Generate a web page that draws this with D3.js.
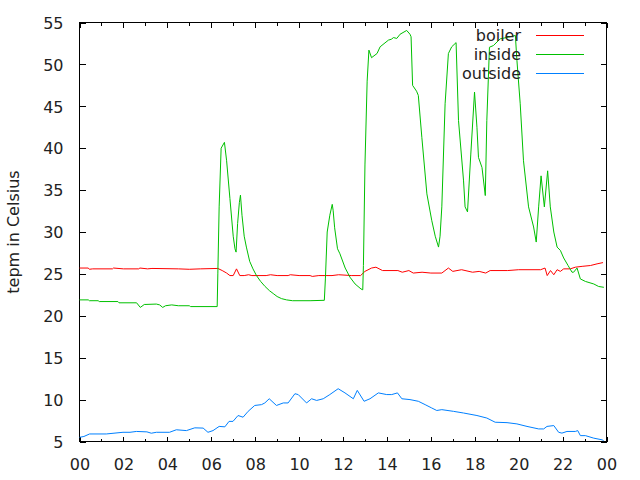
<!DOCTYPE html>
<html>
<head>
<meta charset="utf-8">
<script src="https://cdn.jsdelivr.net/npm/d3@7"></script>
<style>
  body { margin: 0; background: #fff; }
  svg text { font-family: "DejaVu Sans", sans-serif; font-size: 16px; fill: #222; }
</style>
</head>
<body>
<svg id="chart" width="640" height="480"></svg>
<script>
// hours of day, temperature in Celsius
const boiler = [[0,25.7],[0.4,25.7],[0.45,25.55],[0.6,25.6],[1.5,25.6],[1.55,25.7],[2.0,25.6],[2.7,25.6],[2.75,25.7],[3.1,25.6],[3.3,25.65],[4.5,25.6],[5.0,25.55],[5.5,25.6],[6.3,25.65],[6.5,25.4],[6.7,25.1],[6.85,24.8],[7.0,24.8],[7.15,25.6],[7.3,24.8],[7.5,24.8],[7.7,24.9],[7.85,24.8],[8.5,24.8],[8.7,24.9],[9.0,24.8],[9.5,24.8],[9.6,24.9],[10.0,24.8],[10.5,24.8],[10.6,24.7],[10.9,24.8],[11.5,24.8],[11.8,24.9],[12.4,24.8],[12.8,24.8],[13.0,25.3],[13.3,25.7],[13.5,25.8],[13.8,25.4],[14.5,25.4],[14.7,25.2],[15.0,25.4],[15.2,25.1],[15.6,25.2],[16.0,25.1],[16.5,25.1],[16.8,25.7],[17.0,25.3],[17.4,25.5],[17.9,25.2],[18.2,25.3],[18.5,25.1],[18.7,25.4],[19.5,25.4],[20.0,25.5],[21.0,25.5],[21.2,25.7],[21.3,24.8],[21.45,25.4],[21.6,24.9],[21.75,25.5],[21.9,25.3],[22.05,25.6],[22.35,25.6],[22.58,25.8],[22.89,25.9],[23.27,26.0],[23.57,26.2],[23.84,26.35]]

const inside = [[0,21.9],[0.4,21.9],[0.45,21.8],[0.85,21.8],[0.9,21.7],[1.75,21.7],[1.8,21.55],[2.6,21.55],[2.77,21.0],[2.95,21.35],[3.5,21.4],[3.65,21.3],[3.79,21.0],[3.92,21.2],[4.2,21.3],[4.5,21.2],[5.0,21.2],[5.06,21.1],[6.27,21.1],[6.3,25.0],[6.36,33],[6.45,40.0],[6.6,40.7],[6.7,38.5],[6.85,34],[7.0,29.5],[7.08,28.0],[7.13,27.6],[7.2,31],[7.28,33.5],[7.33,34.4],[7.4,32.0],[7.5,29.5],[7.6,28.2],[7.75,26.5],[7.9,25.6],[8.06,24.8],[8.25,24.1],[8.45,23.5],[8.65,23.0],[8.82,22.66],[9.0,22.3],[9.2,22.05],[9.43,21.9],[9.7,21.8],[10.5,21.8],[11.15,21.85],[11.2,24.5],[11.28,30],[11.4,32],[11.51,33.3],[11.55,32.6],[11.62,30.5],[11.75,28.0],[11.86,27.4],[12.1,25.7],[12.32,24.6],[12.55,23.8],[12.82,23.2],[12.9,23.1],[12.93,26],[13.0,38],[13.1,48],[13.18,51.7],[13.3,50.8],[13.55,51.3],[13.69,52.1],[14.07,52.9],[14.2,53.0],[14.3,53.2],[14.45,53.1],[14.6,53.6],[14.9,54.05],[15.05,53.6],[15.1,53.3],[15.17,47.5],[15.35,46.8],[15.43,46.3],[15.59,41.3],[15.82,34.55],[16.04,31.4],[16.2,29.5],[16.35,28.2],[16.42,29.5],[16.5,33],[16.65,45.3],[16.8,51.3],[16.95,52.1],[17.15,52.6],[17.26,43.3],[17.49,36.1],[17.56,33.0],[17.67,32.4],[17.82,39.3],[17.99,46.7],[18.1,42.5],[18.17,38.9],[18.33,37.7],[18.48,34.35],[18.55,43.3],[18.67,52.05],[18.85,52.25],[19.16,53.05],[19.54,53.25],[19.85,53.45],[19.92,50.5],[20.07,45.3],[20.22,38.5],[20.45,33],[20.68,30.6],[20.8,28.8],[20.91,33],[21.02,36.7],[21.17,33],[21.32,37.3],[21.44,33],[21.6,30],[21.75,28.2],[21.9,27.8],[22.05,26.9],[22.25,26.0],[22.43,25.2],[22.5,25.2],[22.66,25.7],[22.81,24.4],[23.04,24.1],[23.42,23.8],[23.64,23.5],[23.88,23.4]]

const outside = [[0,5.5],[0.2,5.6],[0.46,5.9],[1.22,5.9],[1.98,6.1],[2.3,6.1],[2.59,6.2],[3.07,6.15],[3.27,5.99],[3.5,6.1],[4.1,6.1],[4.41,6.4],[4.87,6.3],[5.25,6.63],[5.63,6.6],[5.85,6.1],[6.08,6.3],[6.36,6.8],[6.62,6.75],[6.81,7.4],[6.99,7.4],[7.22,8.1],[7.45,7.9],[7.68,8.6],[7.98,9.3],[8.29,9.4],[8.44,9.6],[8.64,10.1],[8.97,9.3],[9.28,9.6],[9.5,9.6],[9.81,10.7],[9.96,10.6],[10.34,9.6],[10.57,10.1],[10.8,9.9],[11.1,10.1],[11.4,10.6],[11.78,11.3],[12.09,10.8],[12.47,10.1],[12.65,11.1],[12.96,9.8],[13.23,10.1],[13.61,10.8],[13.99,10.6],[14.22,10.6],[14.48,10.8],[14.68,10.1],[15.05,10.0],[15.43,9.8],[15.74,9.4],[16.04,9.0],[16.27,8.7],[16.5,8.8],[17.03,8.6],[17.49,8.4],[18.1,8.1],[18.55,7.8],[18.93,7.3],[19.47,7.25],[19.92,7.1],[20.38,6.8],[20.91,6.5],[21.14,6.5],[21.29,6.8],[21.6,6.9],[21.82,6.1],[21.97,6.0],[22.2,6.2],[22.58,6.2],[22.69,6.3],[22.81,5.7],[23.04,5.7],[23.42,5.4],[23.8,5.2],[23.87,5.1]]

const seriesNames = ["boiler", "inside", "outside"]
const seriesColors = ["#ff0000", "#00c000", "#0080ff"]
const xTicks = d3.range(0, 25, 2)
const xMinorTicks = d3.range(1, 24, 2)
const yTicks = d3.range(5, 56, 5)
const yLabel = "tepm in Celsius"

const svg = d3.select("#chart")
const L = 79.5, R = 606.5, T = 22.5, B = 441.5

const x = d3.scaleLinear().domain([0, 24]).range([L, R])
const y = d3.scaleLinear().domain([5, 55]).range([B, T])

// ticks point inward on all four sides, like gnuplot
function ticks(axis, tr, size, vals, labels) {
  const g = svg.append("g").attr("transform", tr)
    .call(axis.tickValues(vals).tickSize(size).tickPadding(0)
      .tickFormat(labels ? labels : ""))
  g.select(".domain").remove()
  g.selectAll("line").attr("stroke", "#000").attr("shape-rendering", "crispEdges")
  g.selectAll("text").style("font-size", "16px").attr("fill", "#222")
  return g
}

const fmtHour = d => d3.format("02")(d % 24)
const gx = ticks(d3.axisBottom(x), `translate(0,${B})`, -5, xTicks, fmtHour)
gx.selectAll("text").attr("y", 28).attr("dy", 0)
ticks(d3.axisBottom(x), `translate(0,${B})`, -3, xMinorTicks, null)
ticks(d3.axisTop(x), `translate(0,${T})`, -5, xTicks, null)
ticks(d3.axisTop(x), `translate(0,${T})`, -3, xMinorTicks, null)
const gy = ticks(d3.axisLeft(y), `translate(${L},0)`, -6, yTicks, d => d)
gy.selectAll("text").attr("x", -16).attr("dy", "0.36em")
ticks(d3.axisRight(y), `translate(${R},0)`, -6, yTicks, null)

svg.append("rect")
  .attr("x", L).attr("y", T).attr("width", R - L).attr("height", B - T)
  .attr("fill", "none").attr("stroke", "#000").attr("shape-rendering", "crispEdges")

svg.append("text")
  .attr("transform", `translate(19,${(T + B) / 2}) rotate(-90)`)
  .attr("text-anchor", "middle")
  .text(yLabel)

const line = d3.line().x(d => x(d[0])).y(d => y(d[1]))
const allSeries = [boiler, inside, outside]

allSeries.forEach((s, i) => {
  svg.append("path")
    .attr("d", line(s))
    .attr("fill", "none")
    .attr("stroke", seriesColors[i])
    .attr("stroke-width", 1)
})

// legend, top right
const legend = svg.append("g")
seriesNames.forEach((name, i) => {
  const ly = 35 + i * 19
  legend.append("text")
    .attr("x", 521).attr("y", ly).attr("dy", "0.36em")
    .attr("text-anchor", "end")
    .text(name)
  legend.append("line")
    .attr("x1", 536).attr("x2", 584).attr("y1", ly + 0.5).attr("y2", ly + 0.5)
    .attr("stroke", seriesColors[i])
})
</script>
</body>
</html>
